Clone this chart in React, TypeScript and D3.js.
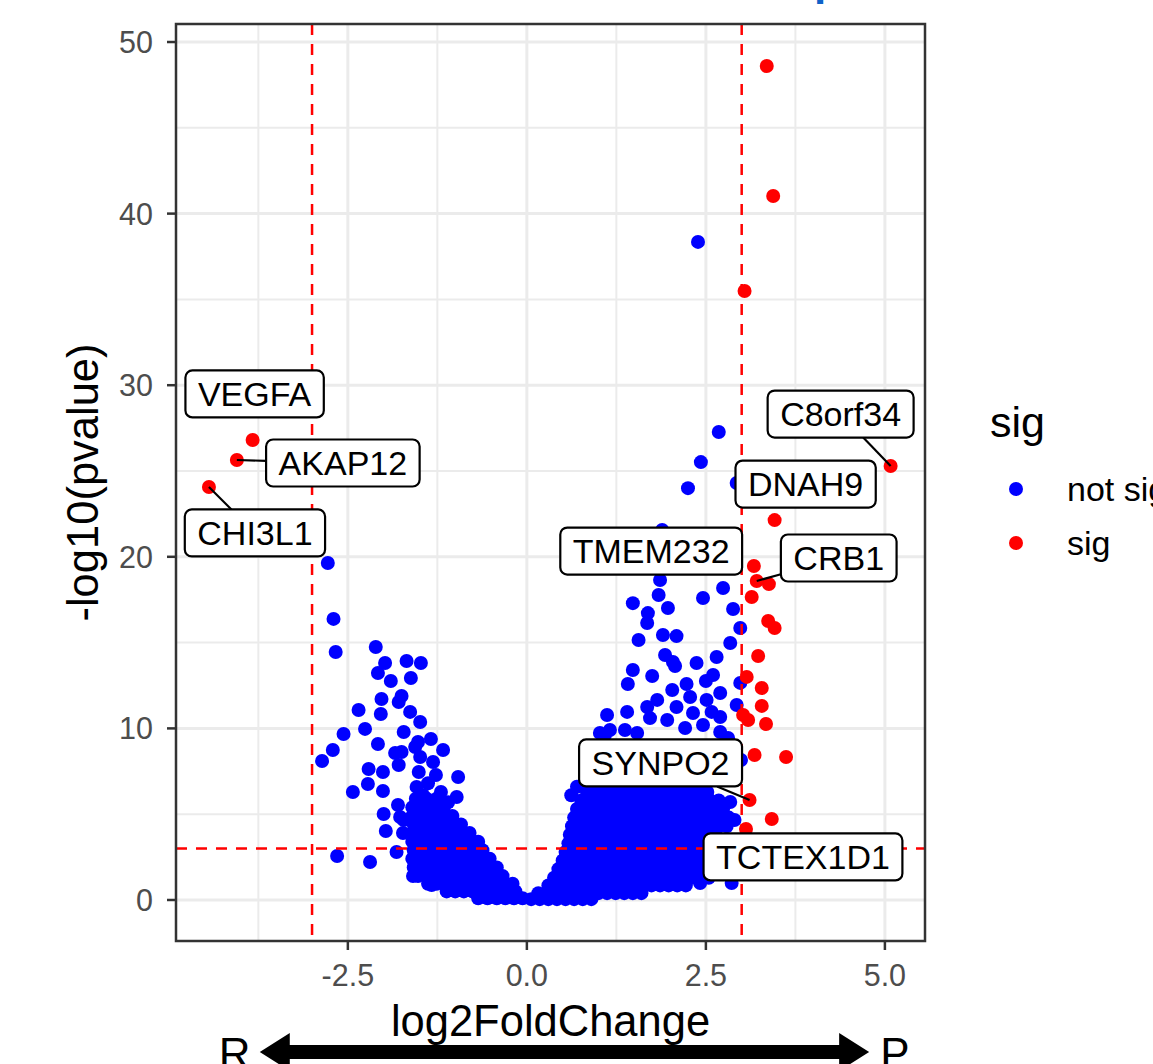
import React, { useEffect, useRef } from 'react';
import * as d3 from 'd3';

const WIDTH = 1153;
const HEIGHT = 1064;

// sig genes (red): [log2FoldChange, -log10(pvalue)]
const sigPoints: [number, number][] = [
  [3.35, 48.6], [3.44, 41.03], [3.04, 35.49], [-3.83, 26.81], [-4.05, 25.64], [-4.44, 24.07],
  [5.08, 25.29], [3.46, 22.14], [3.17, 19.46], [3.21, 18.59], [3.38, 18.41], [3.14, 17.66],
  [3.37, 16.26], [3.46, 15.85], [3.23, 14.22], [3.07, 13.0], [3.28, 12.35], [3.28, 11.31],
  [3.02, 10.78], [3.09, 10.49], [3.34, 10.26], [3.18, 8.45], [3.62, 8.33], [3.11, 5.83],
  [3.42, 4.72], [3.06, 4.14],
];

// not sig, scattered points outside the dense core
const notSigScatter: [number, number][] = [
  [2.39, 38.35], [2.68, 27.27], [2.43, 25.52], [2.25, 24.0], [2.93, 24.3], [1.89, 21.56],
  [1.86, 18.65], [1.84, 17.77], [1.48, 17.3], [1.69, 16.72], [1.97, 17.02], [1.68, 16.14],
  [2.46, 17.6], [2.74, 18.18], [2.88, 16.96], [2.98, 15.85], [1.56, 15.15], [1.9, 15.44],
  [2.09, 15.38], [2.84, 14.98], [1.93, 14.28], [2.04, 13.87], [2.37, 13.81], [2.65, 14.16],
  [1.48, 13.4], [1.41, 12.59], [1.75, 13.05], [2.07, 13.64], [2.23, 12.59], [2.5, 12.76],
  [2.6, 13.11], [2.98, 12.65], [2.7, 12.06], [2.03, 12.24], [2.28, 11.83], [1.82, 11.66],
  [2.51, 11.66], [2.93, 11.36], [1.12, 10.78], [1.4, 10.96], [1.68, 11.25], [2.09, 11.25],
  [2.32, 10.9], [2.58, 10.96], [2.7, 10.66], [1.72, 10.6], [1.96, 10.49], [2.21, 10.02],
  [2.46, 10.2], [2.7, 9.79], [1.37, 9.91], [1.54, 9.73], [1.02, 9.73], [1.16, 9.91],
  [2.81, 9.44], [2.99, 8.16], [1.09, 9.6], [2.84, 5.71], [2.9, 4.66], [2.86, 0.99], [2.42, 0.99],
  [0.7, 6.6], [0.62, 6.1], [0.85, 7.3], [1.1, 7.6], [1.3, 7.9], [0.95, 8.2], [2.6, 8.4], [2.2, 8.9],
  [-2.78, 19.64], [-2.7, 16.38], [-2.67, 14.45], [-2.11, 14.74], [-1.98, 13.81], [-2.08, 13.23],
  [-1.68, 13.93], [-1.48, 13.81], [-1.9, 12.76], [-1.62, 12.94], [-1.75, 11.89], [-2.03, 11.71],
  [-1.79, 11.54], [-2.35, 11.07], [-2.04, 10.84], [-1.63, 10.96], [-1.49, 10.37], [-2.56, 9.67],
  [-2.26, 9.97], [-1.72, 9.79], [-2.71, 8.74], [-2.86, 8.1], [-2.08, 9.09], [-1.84, 8.57],
  [-1.75, 8.62], [-1.52, 9.21], [-1.34, 9.38], [-1.17, 8.74], [-1.56, 8.92], [-1.31, 8.04],
  [-1.49, 8.33], [-1.79, 7.87], [-2.21, 7.63], [-2.01, 7.46], [-1.51, 7.46], [-1.27, 7.28],
  [-0.96, 7.17], [-2.22, 6.76], [-2.43, 6.29], [-2.01, 6.35], [-1.54, 6.59], [-0.98, 6.0],
  [-1.8, 5.54], [-2.0, 5.01], [-1.77, 4.84], [-1.97, 4.02], [-1.73, 3.9], [-2.65, 2.56],
  [-2.19, 2.21], [-1.82, 2.8], [-1.59, 1.4], [-1.33, 0.87], [-1.72, 4.66], [-1.38, 6.8],
  [-1.2, 6.3], [-1.45, 6.1], [-1.1, 5.7], [-1.3, 5.5],
];

// not sig, dense core left of zero
const leftCore: [number, number][] = [
  [-0.68, 0.1], [-0.55, 0.1], [-0.42, 0.1], [-0.3, 0.1], [-0.18, 0.1], [-0.06, 0.1],
  [-1.12, 0.5], [-1.0, 0.5], [-0.88, 0.5], [-0.76, 0.5], [-0.64, 0.5], [-0.52, 0.5], [-0.4, 0.5], [-0.28, 0.5], [-0.16, 0.5],
  [-1.38, 0.95], [-1.26, 0.95], [-1.14, 0.95], [-1.02, 0.95], [-0.9, 0.95], [-0.78, 0.95], [-0.66, 0.95], [-0.54, 0.95], [-0.42, 0.95], [-0.3, 0.95], [-0.2, 0.95],
  [-1.52, 1.4], [-1.4, 1.4], [-1.28, 1.4], [-1.16, 1.4], [-1.04, 1.4], [-0.92, 1.4], [-0.8, 1.4], [-0.68, 1.4], [-0.56, 1.4], [-0.44, 1.4], [-0.34, 1.4],
  [-1.58, 1.9], [-1.46, 1.9], [-1.34, 1.9], [-1.22, 1.9], [-1.1, 1.9], [-0.98, 1.9], [-0.86, 1.9], [-0.74, 1.9], [-0.62, 1.9], [-0.5, 1.9], [-0.42, 1.9],
  [-1.6, 2.4], [-1.48, 2.4], [-1.36, 2.4], [-1.24, 2.4], [-1.12, 2.4], [-1.0, 2.4], [-0.88, 2.4], [-0.76, 2.4], [-0.64, 2.4], [-0.52, 2.4],
  [-1.58, 2.9], [-1.46, 2.9], [-1.34, 2.9], [-1.22, 2.9], [-1.1, 2.9], [-0.98, 2.9], [-0.86, 2.9], [-0.74, 2.9], [-0.62, 2.9],
  [-1.6, 3.4], [-1.48, 3.4], [-1.36, 3.4], [-1.24, 3.4], [-1.12, 3.4], [-1.0, 3.4], [-0.88, 3.4], [-0.76, 3.4], [-0.68, 3.4],
  [-1.6, 3.9], [-1.48, 3.9], [-1.36, 3.9], [-1.24, 3.9], [-1.12, 3.9], [-1.0, 3.9], [-0.88, 3.9], [-0.8, 3.9],
  [-1.58, 4.4], [-1.46, 4.4], [-1.34, 4.4], [-1.22, 4.4], [-1.1, 4.4], [-0.98, 4.4], [-0.92, 4.4],
  [-1.6, 4.9], [-1.48, 4.9], [-1.36, 4.9], [-1.24, 4.9], [-1.12, 4.9], [-1.04, 4.9],
  [-1.6, 5.4], [-1.48, 5.4], [-1.36, 5.4], [-1.24, 5.4], [-1.16, 5.4],
  [-1.55, 5.9], [-1.4, 5.9], [-1.26, 5.9],
];

// not sig, dense core right of zero
const rightCore: [number, number][] = [
  [0.06, 0.05], [0.18, 0.05], [0.3, 0.05], [0.42, 0.05], [0.54, 0.05], [0.66, 0.05], [0.78, 0.05], [0.9, 0.05],
  [0.16, 0.4], [0.28, 0.4], [0.4, 0.4], [0.52, 0.4], [0.64, 0.4], [0.76, 0.4], [0.88, 0.4], [1.0, 0.4], [1.12, 0.4], [1.24, 0.4], [1.36, 0.4], [1.48, 0.4], [1.6, 0.4],
  [0.3, 0.85], [0.42, 0.85], [0.54, 0.85], [0.66, 0.85], [0.78, 0.85], [0.9, 0.85], [1.02, 0.85], [1.14, 0.85], [1.26, 0.85], [1.38, 0.85], [1.5, 0.85], [1.62, 0.85], [1.74, 0.85], [1.86, 0.85], [1.98, 0.85], [2.1, 0.85], [2.22, 0.85],
  [0.38, 1.3], [0.5, 1.3], [0.62, 1.3], [0.74, 1.3], [0.86, 1.3], [0.98, 1.3], [1.1, 1.3], [1.22, 1.3], [1.34, 1.3], [1.46, 1.3], [1.58, 1.3], [1.7, 1.3], [1.82, 1.3], [1.94, 1.3], [2.06, 1.3], [2.18, 1.3], [2.3, 1.3], [2.42, 1.3], [2.54, 1.3],
  [0.44, 1.8], [0.56, 1.8], [0.68, 1.8], [0.8, 1.8], [0.92, 1.8], [1.04, 1.8], [1.16, 1.8], [1.28, 1.8], [1.4, 1.8], [1.52, 1.8], [1.64, 1.8], [1.76, 1.8], [1.88, 1.8], [2.0, 1.8], [2.12, 1.8], [2.24, 1.8], [2.36, 1.8], [2.48, 1.8], [2.6, 1.8],
  [0.5, 2.3], [0.62, 2.3], [0.74, 2.3], [0.86, 2.3], [0.98, 2.3], [1.1, 2.3], [1.22, 2.3], [1.34, 2.3], [1.46, 2.3], [1.58, 2.3], [1.7, 2.3], [1.82, 2.3], [1.94, 2.3], [2.06, 2.3], [2.18, 2.3], [2.3, 2.3], [2.42, 2.3], [2.54, 2.3],
  [0.54, 2.8], [0.66, 2.8], [0.78, 2.8], [0.9, 2.8], [1.02, 2.8], [1.14, 2.8], [1.26, 2.8], [1.38, 2.8], [1.5, 2.8], [1.62, 2.8], [1.74, 2.8], [1.86, 2.8], [1.98, 2.8], [2.1, 2.8], [2.22, 2.8], [2.34, 2.8], [2.46, 2.8],
  [0.58, 3.3], [0.7, 3.3], [0.82, 3.3], [0.94, 3.3], [1.06, 3.3], [1.18, 3.3], [1.3, 3.3], [1.42, 3.3], [1.54, 3.3], [1.66, 3.3], [1.78, 3.3], [1.9, 3.3], [2.02, 3.3], [2.14, 3.3], [2.26, 3.3], [2.38, 3.3], [2.5, 3.3],
  [0.6, 3.8], [0.72, 3.8], [0.84, 3.8], [0.96, 3.8], [1.08, 3.8], [1.2, 3.8], [1.32, 3.8], [1.44, 3.8], [1.56, 3.8], [1.68, 3.8], [1.8, 3.8], [1.92, 3.8], [2.04, 3.8], [2.16, 3.8], [2.28, 3.8], [2.4, 3.8], [2.52, 3.8], [2.64, 3.8],
  [0.63, 4.3], [0.75, 4.3], [0.87, 4.3], [0.99, 4.3], [1.11, 4.3], [1.23, 4.3], [1.35, 4.3], [1.47, 4.3], [1.59, 4.3], [1.71, 4.3], [1.83, 4.3], [1.95, 4.3], [2.07, 4.3], [2.19, 4.3], [2.31, 4.3], [2.43, 4.3], [2.55, 4.3], [2.67, 4.3], [2.79, 4.3],
  [0.66, 4.8], [0.78, 4.8], [0.9, 4.8], [1.02, 4.8], [1.14, 4.8], [1.26, 4.8], [1.38, 4.8], [1.5, 4.8], [1.62, 4.8], [1.74, 4.8], [1.86, 4.8], [1.98, 4.8], [2.1, 4.8], [2.22, 4.8], [2.34, 4.8], [2.46, 4.8], [2.58, 4.8], [2.7, 4.8], [2.82, 4.8],
  [0.7, 5.3], [0.82, 5.3], [0.94, 5.3], [1.06, 5.3], [1.18, 5.3], [1.3, 5.3], [1.42, 5.3], [1.54, 5.3], [1.66, 5.3], [1.78, 5.3], [1.9, 5.3], [2.02, 5.3], [2.14, 5.3], [2.26, 5.3], [2.38, 5.3], [2.5, 5.3], [2.62, 5.3], [2.74, 5.3],
  [0.76, 5.8], [0.88, 5.8], [1.0, 5.8], [1.12, 5.8], [1.24, 5.8], [1.36, 5.8], [1.48, 5.8], [1.6, 5.8], [1.72, 5.8], [1.84, 5.8], [1.96, 5.8], [2.08, 5.8], [2.2, 5.8], [2.32, 5.8], [2.44, 5.8], [2.56, 5.8], [2.68, 5.8],
  [0.84, 6.3], [0.96, 6.3], [1.08, 6.3], [1.2, 6.3], [1.32, 6.3], [1.44, 6.3], [1.56, 6.3], [1.68, 6.3], [1.8, 6.3], [1.92, 6.3], [2.04, 6.3], [2.16, 6.3], [2.28, 6.3], [2.4, 6.3], [2.52, 6.3],
  [0.95, 6.8], [1.1, 6.8], [1.25, 6.8], [1.4, 6.8], [1.55, 6.8], [1.7, 6.8], [1.85, 6.8], [2.0, 6.8], [2.15, 6.8], [2.3, 6.8],
];

// labelled genes
const labelGenes = ['VEGFA', 'AKAP12', 'CHI3L1', 'C8orf34', 'DNAH9', 'TMEM232', 'CRB1', 'SYNPO2', 'TCTEX1D1'];
const labelFC = [-3.83, -4.05, -4.44, 5.08, 3.46, 1.89, 3.21, 3.11, 3.06];
const labelP = [26.81, 25.64, 24.07, 25.29, 22.14, 21.56, 18.59, 5.83, 4.14];

// label box offsets in px from the point (layout only) + whether to draw a segment
const labelNudge: Record<string, [number, number, boolean]> = {
  VEGFA: [2, -46, false],
  AKAP12: [106, 3, true],
  CHI3L1: [46, 46, true],
  C8orf34: [-50, -52, true],
  DNAH9: [31, -36, false],
  TMEM232: [-11, 21, false],
  CRB1: [82, -23, true],
  SYNPO2: [-89, -37, true],
  TCTEX1D1: [57, 28, false],
};

const xTicks = [-2.5, 0, 2.5, 5];
const xMinor = [-3.75, -1.25, 1.25, 3.75];
const yTicks = [0, 10, 20, 30, 40, 50];
const yMinor = [5, 15, 25, 35, 45];
const fcCut = [-3, 3];
const pCut = 3;
const legendKeys = ['not sig', 'sig'];
const legendColors = ['#0000ff', '#ff0000'];
// bottom direction arrow, in log2FoldChange units
const arrowEnds = [-3.73, 4.78];
const arrowLetters = [['R', -4.08], ['P', 5.14]] as [string, number][];

const FONT = "'Liberation Sans', Arial, Helvetica, sans-serif";

export default function App() {
  const ref = useRef<SVGSVGElement>(null);

  useEffect(() => {
    drawChart();
  }, []);

  function drawChart() {
    const svg = d3.select(ref.current);
    svg.selectAll('*').remove();

    const left = 176, right = 925, top = 24, bottom = 941;
    const x = d3.scaleLinear().domain([-4.9, 5.56]).range([left, right]);
    const y = d3.scaleLinear().domain([-2.39, 51.05]).range([bottom, top]);

    svg.append('rect').attr('width', WIDTH).attr('height', HEIGHT).attr('fill', '#fff');

    // title (mostly cropped off in the reference)
    svg.append('text')
      .attr('x', 634).attr('y', -5)
      .attr('font-family', FONT).attr('font-size', 44).attr('font-weight', 'bold')
      .attr('fill', '#0f62c8')
      .text('Volcano plot');

    svg.append('clipPath').attr('id', 'panel')
      .append('rect').attr('x', left).attr('y', top).attr('width', right - left).attr('height', bottom - top);

    const grid = svg.append('g');
    grid.selectAll('.xmin').data(xMinor).join('line')
      .attr('x1', d => x(d)).attr('x2', d => x(d)).attr('y1', top).attr('y2', bottom)
      .attr('stroke', '#ebebeb').attr('stroke-width', 2);
    grid.selectAll('.ymin').data(yMinor).join('line')
      .attr('y1', d => y(d)).attr('y2', d => y(d)).attr('x1', left).attr('x2', right)
      .attr('stroke', '#ebebeb').attr('stroke-width', 2);
    grid.selectAll('.xmaj').data(xTicks).join('line')
      .attr('x1', d => x(d)).attr('x2', d => x(d)).attr('y1', top).attr('y2', bottom)
      .attr('stroke', '#ebebeb').attr('stroke-width', 3);
    grid.selectAll('.ymaj').data(yTicks).join('line')
      .attr('y1', d => y(d)).attr('y2', d => y(d)).attr('x1', left).attr('x2', right)
      .attr('stroke', '#ebebeb').attr('stroke-width', 3);

    const plot = svg.append('g').attr('clip-path', 'url(#panel)');
    const blue = [...leftCore, ...rightCore, ...notSigScatter];
    plot.selectAll('.ns').data(blue).join('circle')
      .attr('cx', d => x(d[0])).attr('cy', d => y(d[1])).attr('r', 7).attr('fill', '#0000ff');
    plot.selectAll('.sg').data(sigPoints).join('circle')
      .attr('cx', d => x(d[0])).attr('cy', d => y(d[1])).attr('r', 7).attr('fill', '#ff0000');

    // threshold lines
    plot.selectAll('.vcut').data(fcCut).join('line')
      .attr('x1', d => x(d)).attr('x2', d => x(d)).attr('y1', top).attr('y2', bottom)
      .attr('stroke', '#ff0000').attr('stroke-width', 2.5).attr('stroke-dasharray', '11,9');
    plot.append('line')
      .attr('x1', left).attr('x2', right).attr('y1', y(pCut)).attr('y2', y(pCut))
      .attr('stroke', '#ff0000').attr('stroke-width', 2.5).attr('stroke-dasharray', '11,9');

    // labels
    const lab = svg.append('g');
    labelGenes.forEach((g, i) => {
      const px = x(labelFC[i]), py = y(labelP[i]);
      const [dx, dy, seg] = labelNudge[g];
      const cx = px + dx, cy = py + dy;
      const grp = lab.append('g');
      const t = grp.append('text')
        .attr('x', cx).attr('y', cy + 12)
        .attr('text-anchor', 'middle')
        .attr('font-family', FONT).attr('font-size', 34).attr('fill', '#000')
        .text(g);
      const tw = (t.node() as SVGTextElement).getComputedTextLength();
      const bw = tw + 25, bh = 47;
      const bx = cx - bw / 2, by = cy - bh / 2;
      if (seg) {
        // clip segment toward label centre at box edge
        const vx = cx - px, vy = cy - py;
        let tt = 1;
        if (vx !== 0) {
          const ex = vx > 0 ? bx : bx + bw;
          const tx = (ex - px) / vx;
          const yy = py + tx * vy;
          if (tx > 0 && yy >= by && yy <= by + bh) tt = Math.min(tt, tx);
        }
        if (vy !== 0) {
          const ey = vy > 0 ? by : by + bh;
          const ty = (ey - py) / vy;
          const xx = px + ty * vx;
          if (ty > 0 && xx >= bx && xx <= bx + bw) tt = Math.min(tt, ty);
        }
        lab.insert('line', ':first-child')
          .attr('x1', px).attr('y1', py).attr('x2', px + tt * vx).attr('y2', py + tt * vy)
          .attr('stroke', '#000').attr('stroke-width', 2.2);
      }
      grp.insert('rect', 'text')
        .attr('x', bx).attr('y', by).attr('width', bw).attr('height', bh)
        .attr('rx', 7).attr('fill', '#fff').attr('stroke', '#000').attr('stroke-width', 2.2);
    });

    // panel border
    svg.append('rect')
      .attr('x', left).attr('y', top).attr('width', right - left).attr('height', bottom - top)
      .attr('fill', 'none').attr('stroke', '#333333').attr('stroke-width', 2.5);

    // axes
    const ax = svg.append('g').attr('font-family', FONT);
    ax.selectAll('.xt').data(xTicks).join('line')
      .attr('x1', d => x(d)).attr('x2', d => x(d)).attr('y1', bottom).attr('y2', bottom + 9)
      .attr('stroke', '#333333').attr('stroke-width', 2.5);
    ax.selectAll('.xl').data(xTicks).join('text')
      .attr('x', d => x(d)).attr('y', 986).attr('text-anchor', 'middle')
      .attr('font-size', 30.5).attr('fill', '#4d4d4d')
      .text(d => d.toFixed(1));
    ax.selectAll('.yt').data(yTicks).join('line')
      .attr('y1', d => y(d)).attr('y2', d => y(d)).attr('x1', left - 9).attr('x2', left)
      .attr('stroke', '#333333').attr('stroke-width', 2.5);
    ax.selectAll('.yl').data(yTicks).join('text')
      .attr('x', 153).attr('y', d => y(d) + 11).attr('text-anchor', 'end')
      .attr('font-size', 30.5).attr('fill', '#4d4d4d')
      .text(d => String(d));

    ax.append('text')
      .attr('x', (left + right) / 2).attr('y', 1036).attr('text-anchor', 'middle')
      .attr('font-size', 43.5).attr('fill', '#000')
      .text('log2FoldChange');
    ax.append('text')
      .attr('transform', `translate(98,${(top + bottom) / 2}) rotate(-90)`)
      .attr('text-anchor', 'middle')
      .attr('font-size', 43.5).attr('fill', '#000')
      .text('-log10(pvalue)');

    // legend
    const lg = svg.append('g').attr('font-family', FONT);
    lg.append('text').attr('x', 990).attr('y', 437).attr('font-size', 43).attr('fill', '#000').text('sig');
    legendKeys.forEach((k, i) => {
      lg.append('circle').attr('cx', 1016).attr('cy', 489 + i * 54).attr('r', 7).attr('fill', legendColors[i]);
      lg.append('text').attr('x', 1067).attr('y', 501 + i * 54).attr('font-size', 34).attr('fill', '#000').text(k);
    });

    // direction arrow under the x axis
    const ay = 1052, head = 30, hh = 19, sh = 7;
    const a0 = x(arrowEnds[0]), a1 = x(arrowEnds[1]);
    svg.append('path')
      .attr('d', `M${a0},${ay} L${a0 + head},${ay - hh} L${a0 + head},${ay - sh} L${a1 - head},${ay - sh} L${a1 - head},${ay - hh} L${a1},${ay} L${a1 - head},${ay + hh} L${a1 - head},${ay + sh} L${a0 + head},${ay + sh} L${a0 + head},${ay + hh} Z`)
      .attr('fill', '#000');
    arrowLetters.forEach(([s, v]) => {
      svg.append('text').attr('x', x(v)).attr('y', 1069).attr('text-anchor', 'middle')
        .attr('font-family', FONT).attr('font-size', 44).attr('fill', '#000').text(s);
    });
  }

  return (
    <div id="container">
      <svg ref={ref} width={WIDTH} height={HEIGHT} style={{ position: 'absolute', left: 0, top: 0 }} />
    </div>
  );
}
